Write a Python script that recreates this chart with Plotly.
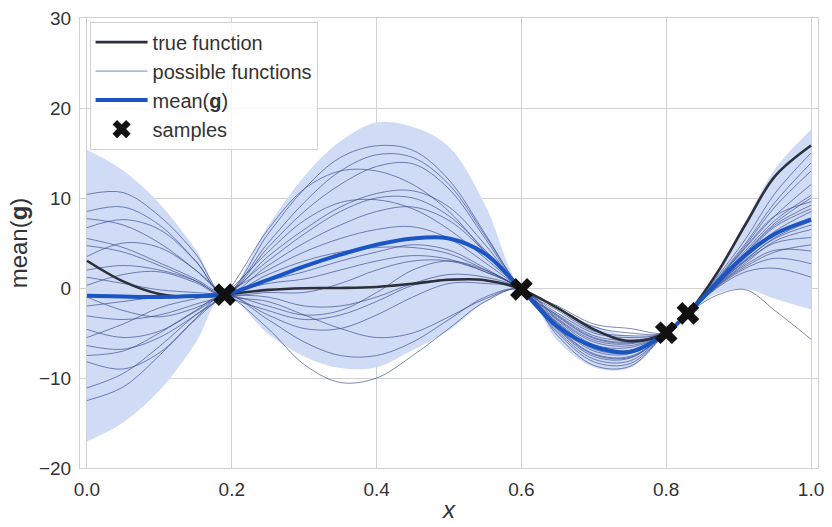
import plotly.graph_objects as go

# ---------------- data ----------------
X_GRID = [0.0, 0.05, 0.10, 0.15, 0.19, 0.25, 0.30, 0.35, 0.40, 0.45, 0.50,
          0.55, 0.60, 0.65, 0.70, 0.75, 0.80, 0.83, 0.87, 0.91, 0.95, 1.0]

true_function = [3.03, 0.74, -0.66, -0.98, -0.73, -0.21, -0.02, 0.0, 0.11, 0.48, 0.91,
                 0.87, -0.15, -2.23, -4.60, -5.90, -4.97, -2.82, 1.63, 7.14, 12.4, 15.83]

mean_g = [-0.85, -0.95, -1.0, -0.9, -0.73, 0.9, 2.4, 3.7, 4.8, 5.5, 5.5,
          3.8, -0.15, -4.3, -6.5, -7.1, -4.97, -2.82, 0.6, 3.7, 6.0, 7.6]

band_halfwidth = [16.2, 14.0, 10.4, 5.2, 0.0, 6.0, 10.0, 12.6, 13.6, 12.4, 10.2,
                  5.4, 0.0, 1.6, 2.3, 1.8, 0.0, 0.0, 1.2, 3.8, 7.2, 10.0]

sample_x = [0.19, 0.60, 0.80, 0.83]
sample_y = [-0.73, -0.15, -4.97, -2.82]

f01 = [10.4, 10.6, 8.0, 3.8, -0.73, 6.0, 11.0, 14.5, 15.8, 15.3, 12.0, 6.0, -0.15, -3.6, -6.3, -6.6, -4.97, -2.82, 0.6, 3.8, 6.8, 8.8]
f02 = [8.5, 9.0, 7.0, 3.0, -0.73, 2.5, 5.0, 7.0, 8.5, 9.0, 7.5, 4.0, -0.15, -2.0, -4.0, -4.5, -4.97, -2.82, 1.2, 5.5, 10.5, 15.0]
f03 = [7.7, 7.0, 5.0, 2.0, -0.73, -1.5, -3.0, -4.5, -5.5, -5.0, -3.2, -1.2, -0.15, -4.4, -7.3, -7.6, -4.97, -2.82, 0.2, 2.6, 4.2, 4.1]
f04 = [6.7, 7.6, 6.5, 3.0, -0.73, 4.5, 8.5, 11.5, 13.5, 13.8, 11.0, 5.5, -0.15, -3.0, -5.3, -5.8, -4.97, -2.82, 0.8, 4.5, 8.0, 11.5]
f05 = [4.7, 4.0, 2.5, 0.8, -0.73, 1.5, 3.0, 4.0, 4.5, 4.5, 3.8, 2.0, -0.15, -5.0, -8.2, -8.4, -4.97, -2.82, -0.8, -0.2, -2.5, -5.7]
f06 = [2.0, 2.5, 2.0, 0.8, -0.73, 3.5, 6.5, 9.0, 10.5, 10.8, 9.0, 4.8, -0.15, -3.2, -5.6, -6.1, -4.97, -2.82, 0.5, 3.4, 6.0, 7.8]
f07 = [1.2, 0.5, -0.2, -0.5, -0.73, -1.0, -2.0, -2.0, -1.0, 0.5, 1.5, 1.2, -0.15, -4.2, -7.0, -7.3, -4.97, -2.82, 0.1, 2.2, 3.3, 2.7]
f08 = [0.3, 1.5, 1.8, 0.6, -0.73, 5.0, 9.5, 13.0, 14.8, 14.5, 11.5, 5.8, -0.15, -3.8, -6.5, -6.9, -4.97, -2.82, 0.9, 4.8, 9.0, 13.0]
f09 = [-2.0, -1.5, -1.0, -0.8, -0.73, -4.5, -8.5, -10.5, -10.0, -7.5, -4.5, -1.5, -0.15, -5.3, -8.6, -8.7, -4.97, -2.82, 0.0, 1.8, 2.2, 1.2]
f10 = [-3.1, -3.5, -3.0, -1.8, -0.73, 3.0, 6.0, 8.5, 10.0, 10.0, 8.0, 4.2, -0.15, -2.5, -4.8, -5.3, -4.97, -2.82, 0.7, 4.2, 7.5, 10.3]
f11 = [-4.6, -5.5, -4.8, -2.6, -0.73, 0.5, 1.0, 2.0, 3.0, 3.6, 3.2, 1.8, -0.15, -4.6, -7.6, -7.8, -4.97, -2.82, 0.3, 3.0, 5.0, 5.6]
f12 = [-6.4, -6.8, -5.5, -3.0, -0.73, 6.5, 11.0, 13.0, 13.0, 11.5, 8.5, 4.0, -0.15, -2.2, -4.3, -5.0, -4.97, -2.82, 1.0, 5.0, 9.5, 13.9]
f13 = [-7.5, -7.0, -5.0, -2.5, -0.73, -3.0, -4.5, -4.5, -3.0, -1.0, 0.5, 0.5, -0.15, -4.8, -7.9, -8.1, -4.97, -2.82, 0.4, 3.2, 5.5, 7.0]
f14 = [-8.2, -9.0, -7.2, -3.5, -0.73, 2.0, 4.0, 5.5, 6.5, 6.8, 5.5, 2.8, -0.15, -3.5, -6.0, -6.4, -4.97, -2.82, 0.8, 4.6, 8.0, 9.6]
f15 = [-11.1, -9.5, -6.5, -3.0, -0.73, 4.0, 7.5, 9.5, 9.8, 8.8, 6.5, 3.3, -0.15, -4.0, -6.8, -7.1, -4.97, -2.82, 0.5, 3.6, 6.3, 8.5]
f16 = [-12.5, -11.0, -7.5, -3.4, -0.73, -3.5, -6.0, -7.5, -7.5, -6.0, -3.5, -1.0, -0.15, -3.4, -5.8, -6.2, -4.97, -2.82, 0.3, 2.8, 5.2, 6.5]
f17 = [5.5, 4.5, 2.8, 1.0, -0.73, -0.5, -0.5, 0.5, 2.0, 3.0, 3.0, 1.8, -0.15, -3.9, -6.6, -7.0, -4.97, -2.82, 0.6, 3.9, 7.0, 9.2]
f18 = [-1.0, -2.5, -3.2, -2.2, -0.73, 0.8, 1.8, 3.0, 4.0, 4.8, 4.2, 2.2, -0.15, -2.8, -5.0, -5.5, -4.97, -2.82, 0.7, 4.0, 7.2, 10.0]
f19 = [3.5, 5.0, 4.5, 2.0, -0.73, -2.5, -3.5, -3.0, -1.5, 0.3, 1.0, 0.8, -0.15, -4.5, -7.4, -7.7, -4.97, -2.82, 0.4, 3.1, 5.6, 7.4]
f20 = [-5.5, -4.0, -2.2, -1.2, -0.73, -2.0, -3.0, -2.5, -0.5, 2.0, 3.0, 2.0, -0.15, -3.1, -5.5, -6.0, -4.97, -2.82, 0.2, 2.4, 4.0, 4.8]

possible_functions = [f01, f02, f03, f04, f05, f06, f07, f08, f09, f10,
                      f11, f12, f13, f14, f15, f16, f17, f18, f19, f20]

X_TICKS = [0.0, 0.2, 0.4, 0.6, 0.8, 1.0]
X_TICK_TEXT = ["0.0", "0.2", "0.4", "0.6", "0.8", "1.0"]
Y_TICKS = [-20, -10, 0, 10, 20, 30]
Y_TICK_TEXT = ["\u221220", "\u221210", "0", "10", "20", "30"]

# ---------------- figure ----------------
FONT = "Liberation Sans, Arial, Helvetica, sans-serif"
upper = [m + h for m, h in zip(mean_g, band_halfwidth)]
lower = [m - h for m, h in zip(mean_g, band_halfwidth)]

fig = go.Figure()

fig.add_trace(go.Scatter(x=X_GRID, y=upper, mode="lines", line=dict(width=0, shape="spline"),
                         showlegend=False, hoverinfo="skip"))
fig.add_trace(go.Scatter(x=X_GRID, y=lower, mode="lines", line=dict(width=0, shape="spline"),
                         fill="tonexty", fillcolor="rgb(208,219,245)",
                         showlegend=False, hoverinfo="skip"))

for i, f in enumerate(possible_functions):
    fig.add_trace(go.Scatter(
        x=X_GRID, y=f, mode="lines",
        line=dict(color="rgba(45,65,135,0.62)", width=1.0, shape="spline"),
        name="possible functions", legendgroup="pf", showlegend=(i == 0),
        legendrank=2))

fig.add_trace(go.Scatter(x=X_GRID, y=true_function, mode="lines",
                         line=dict(color="#2b303c", width=2.6, shape="spline"),
                         name="true function", legendgroup="tf", legendrank=1))
fig.add_trace(go.Scatter(x=X_GRID, y=mean_g, mode="lines",
                         line=dict(color="#1a55c4", width=4, shape="spline"),
                         name="mean(<b>g</b>)", legendgroup="mg", legendrank=3))
fig.add_trace(go.Scatter(x=sample_x, y=sample_y, mode="markers",
                         marker=dict(symbol="x", size=20, color="#111111",
                                     line=dict(width=0)),
                         name="samples", legendgroup="sm", legendrank=4))

axis_common = dict(showgrid=True, gridcolor="#d0d0d0", gridwidth=1, zeroline=False,
                   showline=True, linecolor="#d0d0d0", linewidth=1, mirror=True,
                   ticks="outside", ticklen=4, tickcolor="rgba(0,0,0,0)",
                   tickfont=dict(family=FONT, size=19, color="#333333"))

fig.update_layout(
    width=832, height=527,
    margin=dict(l=80, r=8, t=12, b=56),
    plot_bgcolor="white", paper_bgcolor="white",
    font=dict(family=FONT, size=18, color="#333333"),
    xaxis=dict(range=[-0.0096, 1.0096], tickvals=X_TICKS, ticktext=X_TICK_TEXT,
               title=dict(text="<i>x</i>", font=dict(size=24), standoff=2),
               **axis_common),
    yaxis=dict(range=[-20, 30], tickvals=Y_TICKS, ticktext=Y_TICK_TEXT,
               title=dict(text="mean(<b>g</b>)", font=dict(size=24), standoff=4),
               **axis_common),
    legend=dict(x=0.013, y=0.992, xanchor="left", yanchor="top",
                bgcolor="rgba(255,255,255,0.8)", bordercolor="#d0d0d0", borderwidth=1,
                font=dict(family=FONT, size=20, color="#333333"),
                traceorder="grouped", tracegroupgap=0, itemwidth=52),
)

fig.write_html("out.html")
